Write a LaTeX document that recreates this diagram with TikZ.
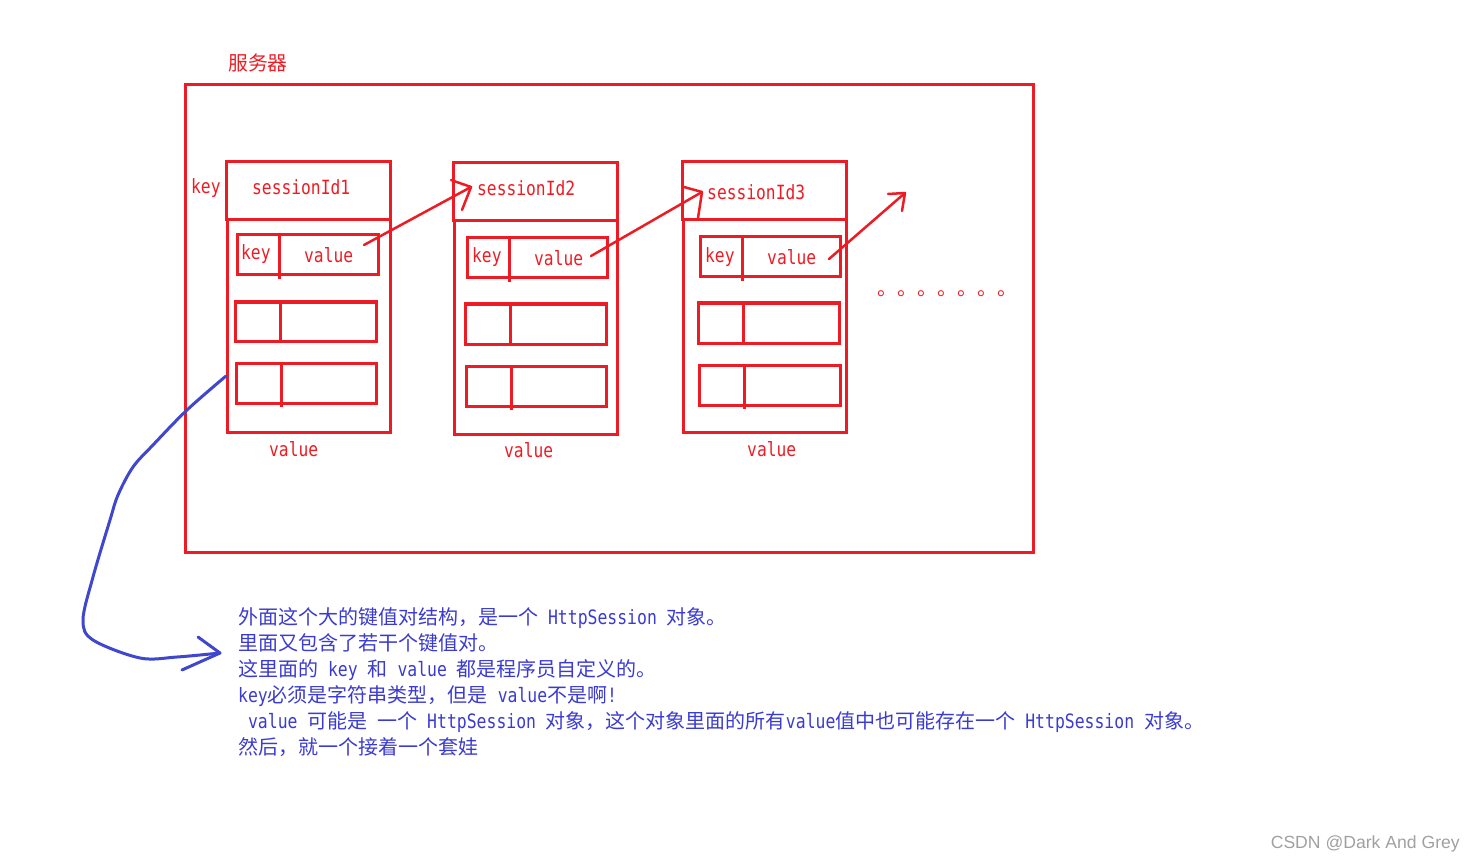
\documentclass[tikz,border=0pt]{standalone}
\usepackage{fontspec}
\setmainfont{Noto Sans CJK SC}
\newfontfamily\monofont[FakeStretch=0.83]{DejaVu Sans Mono}
\newfontfamily\wmfont{Liberation Sans}
\definecolor{pred}{HTML}{ED1C24}
\definecolor{pblue}{HTML}{3F48CC}
\definecolor{tblue}{HTML}{3B3BD0}
\definecolor{wmgray}{HTML}{A0A0A0}
\newcommand\lat[1]{{\fontsize{19.8}{26}\monofont #1}}
\tikzset{
  box/.style={draw=pred, line width=3pt},
  rarrow/.style={draw=pred, line width=2.5pt, line cap=round, line join=round},
  barrow/.style={draw=pblue, line width=3pt, line cap=round, line join=round},
  rlbl/.style={text=pred, inner sep=0pt, anchor=base west, font=\fontsize{19.6}{20}\monofont},
  cjklbl/.style={inner sep=0pt, anchor=base west, font=\fontsize{19.8}{26}\selectfont},
  para/.style={text=tblue, inner sep=0pt, anchor=base west, font=\fontsize{20}{26}\selectfont},
}
\begin{document}
\begin{tikzpicture}[x=1pt,y=-1pt]
\useasboundingbox (0,0) rectangle (1476,861);

% server
\node[cjklbl, text=pred] (server) at (228,71) {服务器};
\draw[box] (185,85) rectangle (1033,552);

% column 1
\draw[box] (226,162) rectangle (390,220);
\draw[box] (227,220) rectangle (390,432);
\draw[box] (237,235) rectangle (378,275);
\draw[box] (279,233) -- (279,279);
\draw[box] (235,302) rectangle (376,341);
\draw[box] (280,302) -- (280,341);
\draw[box] (236,363) rectangle (376,403);
\draw[box] (281,363) -- (281,407);
\node[rlbl] (okey) at (191,194) {key};
\node[rlbl] (sid1) at (252,195) {sessionId1};
\node[rlbl] (k1) at (241,260) {key};
\node[rlbl] (v1) at (304,263) {value};
\node[rlbl] (bv1) at (269,456) {value};

% column 2
\draw[box] (453,163) rectangle (617,221);
\draw[box] (454,221) rectangle (617,434);
\draw[box] (467,238) rectangle (607,278);
\draw[box] (509,236) -- (509,282);
\draw[box] (465,304) rectangle (606,344);
\draw[box] (510,304) -- (510,344);
\draw[box] (466,366) rectangle (606,406);
\draw[box] (511,366) -- (511,410);
\node[rlbl] (sid2) at (477,196) {sessionId2};
\node[rlbl] (k2) at (472,263) {key};
\node[rlbl] (v2) at (534,266) {value};
\node[rlbl] (bv2) at (504,457) {value};

% column 3
\draw[box] (682,162) rectangle (846,220);
\draw[box] (683,220) rectangle (846,432);
\draw[box] (700,237) rectangle (840,277);
\draw[box] (742,235) -- (742,281);
\draw[box] (698,303) rectangle (839,343);
\draw[box] (743,303) -- (743,343);
\draw[box] (699,365) rectangle (840,405);
\draw[box] (744,365) -- (744,409);
\node[rlbl] (sid3) at (707,200) {sessionId3};
\node[rlbl] (k3) at (705,263) {key};
\node[rlbl] (v3) at (767,265) {value};
\node[rlbl] (bv3) at (747,456) {value};

% dots
\node[cjklbl, text=pred, font=\fontsize{20}{20}\selectfont] (dots) at (877,296) {。。。。。。。};

% red arrows
\coordinate (a1s) at (364,245);
\coordinate (a1t) at (471,187);
\draw[rarrow] (a1s) -- (a1t);
\draw[rarrow] (451,180) -- (a1t) -- (462,210);
\coordinate (a2s) at (591,256);
\coordinate (a2t) at (702,192);
\draw[rarrow] (a2s) -- (a2t);
\draw[rarrow] (684,187) -- (a2t) -- (698,218);
\coordinate (a3s) at (829,259);
\coordinate (a3t) at (905,193);
\draw[rarrow] (a3s) -- (a3t);
\draw[rarrow] (888,194) -- (a3t) -- (902,211);

% blue curve
\coordinate (bs) at (226,376);
\coordinate (bt) at (220,653);
\draw[barrow] plot[smooth, tension=0.55] coordinates {(bs) (187,410) (153,445) (133,467) (118,495) (110,520) (93,577) (83,620) (93,640) (140,658) (177,657) (bt)};
\draw[barrow] (198,637) -- (bt) -- (182,670);

% paragraph
\node[para] (l1) at (238,624) {外面这个大的键值对结构，是一个\lat{\ HttpSession\ }对象。};
\node[para] (l2) at (238,650) {里面又包含了若干个键值对。};
\node[para] (l3) at (238,676) {这里面的\lat{\ key\ }和\lat{\ value\ }都是程序员自定义的。};
\node[para] (l4) at (238,702) {\lat{key}必须是字符串类型，但是\lat{\ value}不是啊\lat{!}};
\node[para] (l5) at (238,728) {\lat{\ value\ }可能是\lat{\ }一个\lat{\ HttpSession\ }对象，这个对象里面的所有\lat{value}值中也可能存在一个\lat{\ HttpSession\ }对象。};
\node[para] (l6) at (238,754) {然后，就一个接着一个套娃};

% watermark
\node[inner sep=0pt, anchor=base east, text=wmgray, font=\fontsize{17.6}{20}\wmfont] (wm) at (1460,848) {CSDN @Dark And Grey};
\end{tikzpicture}
\end{document}
